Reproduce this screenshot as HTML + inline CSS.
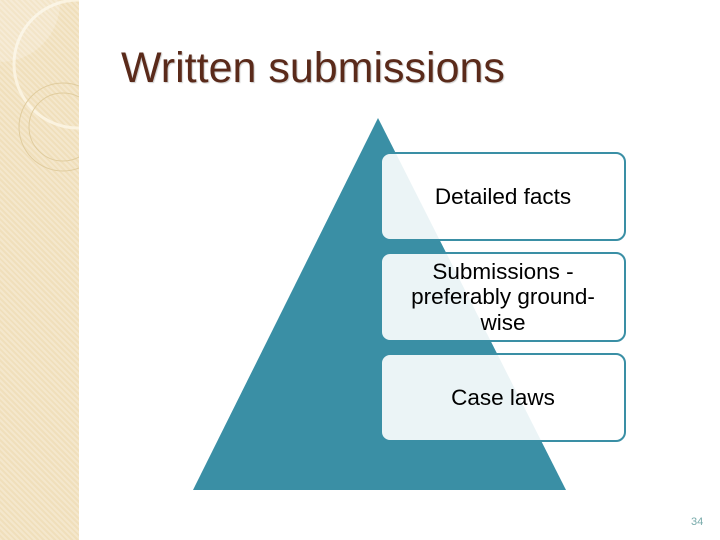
<!DOCTYPE html>
<html><head><style>
body{margin:0;width:720px;height:540px;overflow:hidden;background:#fff;font-family:"Liberation Sans",sans-serif;position:relative}
.side{position:absolute;left:0;top:0;width:79px;height:540px;background:#f0dfbb;background-image:repeating-linear-gradient(45deg,rgba(255,255,255,.25) 0 2px,transparent 2px 4px)}
h1{position:absolute;left:121px;top:44px;margin:0;font-weight:normal;font-size:43px;color:#5a2a1a;text-shadow:1px 1px 1px #ccc}
.box{position:absolute;left:380px;width:242px;border:2px solid #3a8fa5;border-radius:10px;background:rgba(255,255,255,.9);display:flex;align-items:center;justify-content:center;text-align:center;font-size:22.5px;color:#000;line-height:25.5px}
.pg{position:absolute;left:691px;top:516px;font-size:11px;color:#7aa}
</style></head><body>
<div class="side"><svg width="79" height="540" style="position:absolute;left:0;top:0">
<circle cx="78" cy="64" r="64" fill="none" stroke="#fbf3e0" stroke-width="3"/>
<circle cx="63" cy="127" r="44" fill="none" stroke="#e0cc9e" stroke-width="1"/>
<circle cx="63" cy="127" r="34" fill="none" stroke="#e0cc9e" stroke-width="1"/>
<path d="M0 0 H60 A60 60 0 0 1 0 62 Z" fill="rgba(255,255,255,.2)"/>
</svg></div>
<h1>Written submissions</h1>
<svg width="720" height="540" style="position:absolute;left:0;top:0"><polygon points="378,118 566,490 193,490" fill="#3a8fa5"/></svg>
<div class="box" style="top:152px;height:85px">Detailed facts</div>
<div class="box" style="top:252px;height:86px">Submissions -<br>preferably ground-<br>wise</div>
<div class="box" style="top:353px;height:85px">Case laws</div>
<div class="pg">34</div>
</body></html>
